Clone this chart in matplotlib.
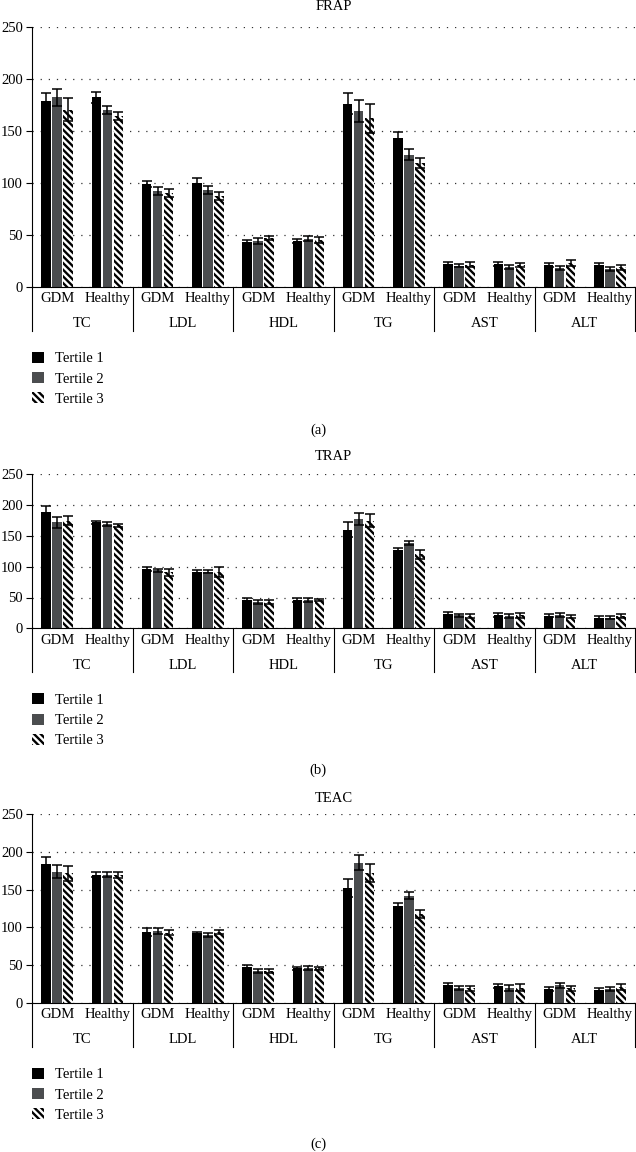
import numpy as np
import matplotlib
matplotlib.use("Agg")
import matplotlib.pyplot as plt
from matplotlib.patches import Patch

plt.rcParams['font.family'] = ['Liberation Serif', 'DejaVu Serif']
plt.rcParams['font.size'] = 10.5
plt.rcParams['hatch.linewidth'] = 1.7

# Data ================================================
categories = ['TC', 'LDL', 'HDL', 'TG', 'AST', 'ALT']
groups = ['GDM', 'Healthy']
tertiles = ['Tertile 1', 'Tertile 2', 'Tertile 3']
panel_titles = ['FRAP', 'TRAP', 'TEAC']
panel_tags = ['(a)', '(b)', '(c)']

# order: TC-GDM, TC-Healthy, LDL-GDM, LDL-Healthy, HDL-..., TG-..., AST-..., ALT-...
frap_t1 = [179, 182, 99, 100, 43, 44, 176, 143, 21.5, 22, 20.5, 21]
frap_t2 = [182, 170, 92, 93, 44, 46, 169, 127, 20, 19, 18, 17]
frap_t3 = [170, 164, 90, 87, 46.5, 45, 162, 119, 21, 20.5, 22.5, 18.5]
frap_e1 = [7, 5, 3, 5, 2, 2, 10, 6, 2, 2, 2, 2]
frap_e2 = [8, 4, 4, 4, 2.5, 2.5, 11, 5, 1.5, 2, 2, 2]
frap_e3 = [11, 4, 4, 4, 2, 3, 14, 5, 2.5, 2, 3, 2]

trap_t1 = [188, 172, 96, 92, 46, 46, 160, 127, 24, 21.5, 20.5, 17.5]
trap_t2 = [172, 169, 94, 92, 43, 46, 177, 138, 21, 20, 21.5, 17.5]
trap_t3 = [175, 167, 91, 92, 43, 46, 175, 120, 20, 21, 19, 20]
trap_e1 = [10, 3, 3, 3, 3, 2.5, 12, 4, 3, 3, 2.5, 2.5]
trap_e2 = [9, 3, 3, 3, 3, 3, 10, 3.5, 3, 2.5, 3, 3]
trap_e3 = [8, 3, 6, 8, 3, 2, 11, 7, 2.5, 3.5, 3, 3.5]

teac_t1 = [184, 170, 94, 92, 47, 46, 152, 128, 23, 22.5, 18, 17]
teac_t2 = [174, 170, 95, 90, 42, 46, 186, 142, 20, 20, 23, 18]
teac_t3 = [172, 169, 93, 94, 42, 46, 172, 118, 19, 20, 19, 21]
teac_e1 = [9, 3, 5, 2, 2.5, 2, 12, 4.5, 3, 2.5, 2.5, 2]
teac_e2 = [9, 3, 4, 2.5, 3, 3, 10, 5, 2.5, 4, 3, 2.5]
teac_e3 = [10, 4, 3, 3, 3, 2, 12, 5, 3, 4.5, 3, 3.5]

yticks = [0, 50, 100, 150, 200, 250]

# Layout (pixels) =====================================
W, H = 636, 1152
AX_LEFT, AX_RIGHT = 32, 635
# (axes top, axes bottom, title y, tag y)
layouts = [(26.7, 286.7, 6, 430),
           (474.3, 628.3, 457, 770),
           (814.3, 1002.7, 799, 1144)]

GRAY = '#4b4d4f'
HATCH = '\\' * 5
BAR_W = 0.094
STEP = 0.109


def draw_panel(fig, layout, title, tag, means, errs):
    top, bottom, title_y, tag_y = layout
    ax = fig.add_axes([AX_LEFT / W, 1 - bottom / H,
                       (AX_RIGHT - AX_LEFT) / W, (bottom - top) / H])
    ax_h = bottom - top

    idx = np.arange(len(categories) * len(groups))
    centers = idx // 2 - 0.25 + 0.5 * (idx % 2)
    styles = [dict(color='black'),
              dict(color=GRAY),
              dict(color='white', edgecolor='black', hatch=HATCH, linewidth=0)]
    for j in range(3):
        ax.bar(centers + (j - 1) * STEP, means[j], BAR_W, yerr=errs[j],
               capsize=3.5, error_kw=dict(elinewidth=1.1, capthick=1.1, ecolor='black'),
               zorder=2, **styles[j])

    ax.set_xlim(-0.5, len(categories) - 0.5)
    ax.set_ylim(0, 250)
    ax.set_yticks(yticks)
    ax.set_xticks([])
    ax.yaxis.grid(True, linestyle=(0, (1, 5.5)), color='#333333', linewidth=0.9)
    ax.set_axisbelow(True)
    ax.tick_params(axis='y', direction='out', length=4, width=0.8, pad=2.5)
    for s in ['top', 'right']:
        ax.spines[s].set_visible(False)
    ax.spines['left'].set_linewidth(0.8)
    ax.spines['bottom'].set_linewidth(0.8)

    # group and category labels under the axis
    trans = ax.get_xaxis_transform()
    for k, c in enumerate(idx):
        ax.annotate(groups[c % 2], xy=(centers[k], 0), xycoords=trans,
                    xytext=(0, -12 * 0.72), textcoords='offset points',
                    ha='center', va='center')
    for i, cat in enumerate(categories):
        ax.annotate(cat, xy=(i, 0), xycoords=trans,
                    xytext=(0, -37 * 0.72), textcoords='offset points',
                    ha='center', va='center')
    for b in np.arange(len(categories) + 1) - 0.5:
        ax.plot([b, b], [0, -44 / ax_h], transform=trans, color='black',
                linewidth=0.8, clip_on=False)

    # legend
    handles = [Patch(facecolor='black', edgecolor='black', linewidth=0),
               Patch(facecolor=GRAY, edgecolor=GRAY, linewidth=0),
               Patch(facecolor='white', edgecolor='black', hatch=HATCH, linewidth=0)]
    ax.legend(handles, tertiles, loc='upper left', bbox_to_anchor=(0, -65 / ax_h),
              frameon=False, borderpad=0, borderaxespad=0, handlelength=0.8,
              handleheight=0.8, handletextpad=0.8, labelspacing=0.45)

    fig.text((AX_LEFT + AX_RIGHT) / 2 / W, 1 - title_y / H, title,
             ha='center', va='center')
    fig.text(0.5, 1 - tag_y / H, tag, ha='center', va='center')


def main():
    fig = plt.figure(figsize=(W / 100, H / 100), dpi=100)
    data = [([frap_t1, frap_t2, frap_t3], [frap_e1, frap_e2, frap_e3]),
            ([trap_t1, trap_t2, trap_t3], [trap_e1, trap_e2, trap_e3]),
            ([teac_t1, teac_t2, teac_t3], [teac_e1, teac_e2, teac_e3])]
    for p in range(3):
        draw_panel(fig, layouts[p], panel_titles[p], panel_tags[p], data[p][0], data[p][1])
    fig.savefig('out.png', dpi=100)


if __name__ == "__main__":
    main()
